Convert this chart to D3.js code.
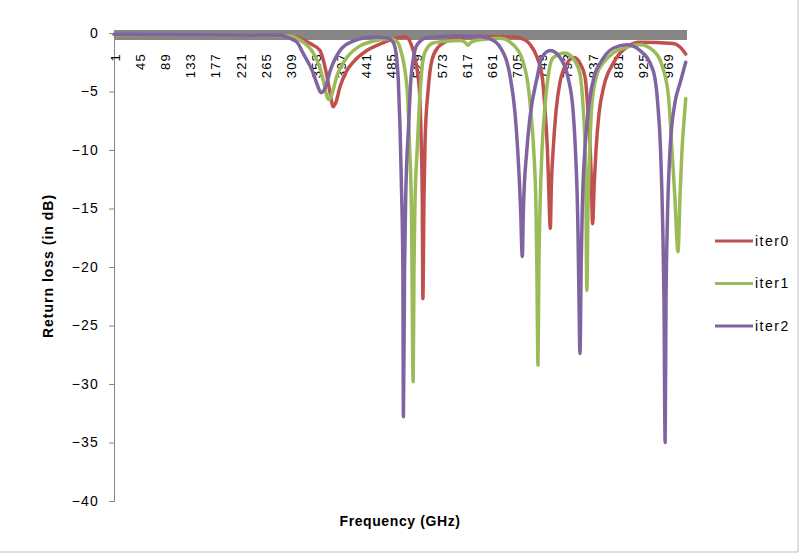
<!DOCTYPE html>
<html lang="en">
<head>
  <meta charset="UTF-8">
  <title>Return loss</title>
  <style>
    *{ margin:0; padding:0; }
    body{ background:#fff; }
    text{ font-family:"Liberation Sans", Arial, sans-serif; fill:#000; }
  </style>
  <script src="https://cdn.jsdelivr.net/npm/d3@7/dist/d3.min.js"></script>
</head>
<body>
  <svg id="mainsvg"></svg>
  <script>
    // frequency index (1..1001) and return loss in dB
    const nPoints = 1001
    const xTickLabels = [1,45,89,133,177,221,265,309,353,397,441,485,529,573,617,661,705,749,793,837,881,925,969]
    const yTicks = [0,-5,-10,-15,-20,-25,-30,-35,-40]
    const seriesNames = ['iter0','iter1','iter2']
    const seriesColors = ['#C0504D','#9BBB59','#8064A2']

    const iter0 = [[1,-0.15],[151,-0.15],[291,-0.2],[321,-0.35],[344,-0.9],[361,-1.5],[372,-3.4],[379,-5.2],[384,-6.3],
      [389,-5.9],[396,-4.6],[407,-3.3],[419,-2.5],[443,-1.5],[471,-0.85],[497,-0.4],[511,-0.35],[520,-0.9],[528,-2.3],
      [535,-5],[538,-9],[540,-14],[541,-22.7],[543,-14],[545,-9],[550,-5],[557,-2.3],[568,-1.2],[583,-0.7],[606,-0.4],
      [641,-0.3],[702,-0.35],[720,-0.6],[729,-1.0],[741,-2.1],[750,-3.8],[755,-6.7],[759,-10],[761,-12.8],[764,-16.7],
      [766,-12.8],[769,-10],[774,-6.7],[781,-4.2],[793,-2.6],[806,-2.1],[816,-2.6],[825,-3.8],[830,-6.7],[834,-10],
      [836,-12.8],[838,-16.3],[841,-12.8],[844,-10],[849,-7],[858,-4.5],[874,-2.6],[898,-1.2],[921,-0.8],[979,-0.9],
      [991,-1.2],[1001,-1.8]]

    const iter1 = [[1,-0.15],[151,-0.15],[308,-0.25],[326,-0.6],[349,-1.7],[361,-3.0],[368,-4.3],[373,-5.4],[377,-5.7],
      [382,-5.2],[391,-3.6],[408,-2.1],[431,-1.1],[454,-0.7],[483,-0.5],[497,-0.8],[504,-1.8],[510,-3.3],[515,-6],
      [518,-10],[521,-15],[522,-20],[524,-29.8],[525.5,-20],[527,-15],[531,-10],[535,-6],[539.5,-3],[545,-1.6],
      [559,-0.85],[583,-0.7],[606,-0.65],[615,-0.8],[620,-1.05],[625,-0.8],[638,-0.6],[676,-0.45],[699,-1.0],[716,-2.4],
      [725,-4.4],[731,-7.3],[735,-10],[739,-15],[740.5,-20],[742.5,-28.4],[744,-20],[746,-15],[749.5,-10],[753,-7.3],
      [760,-3.8],[769,-2.1],[790,-1.7],[807,-2.4],[816,-3.5],[821,-6],[825,-10],[826.5,-15],[828,-22],[830,-15],
      [833,-10],[837,-6],[846,-3.5],[856,-2.6],[874,-1.7],[898,-1.2],[921,-1.0],[944,-1.5],[961,-3.0],[971,-5.5],
      [977,-10],[982,-14],[987.5,-18.7],[991,-14],[994.5,-10],[998,-7.5],[1001,-5.6]]

    const iter2 = [[1,-0.1],[151,-0.15],[291,-0.2],[308,-0.45],[321,-0.8],[331,-1.7],[349,-3.4],[356,-4.4],[363,-5.1],
      [370,-4.7],[379,-3.2],[396,-1.5],[419,-0.7],[454,-0.35],[478,-0.4],[489,-0.8],[494,-1.7],[498,-4],[501,-8],
      [504,-14],[506,-20],[507,-32.8],[509,-20],[511,-14],[516,-8],[520,-4],[525,-2],[531,-1.0],[548,-0.4],[601,-0.25],
      [641,-0.3],[659,-0.5],[676,-1.2],[694,-3.8],[702,-6.7],[707,-10],[712,-15],[715,-19.1],[717,-15],[723,-10],
      [729,-7],[741,-3.8],[749,-2.1],[764,-1.5],[781,-2.1],[795,-3.8],[804,-6.7],[808,-10],[812.5,-17],[814,-22],
      [816,-27.4],[818,-20],[820,-15],[824.5,-10],[832,-6],[842,-3.5],[851,-2.6],[874,-1.3],[898,-1.0],[921,-1.5],
      [944,-3.2],[952,-6],[957,-10],[961,-17],[963,-23],[965,-35],[966.5,-23],[968.5,-17],[973.5,-10],[982,-6],
      [991,-4.3],[1001,-2.5]]

    const allSeries = [iter0, iter1, iter2]

    const width = 802, height = 556
    const margin = { left:114, top:33, right:116, bottom:55 }
    const svg = d3.select('#mainsvg').attr('width',width).attr('height',height)
      .style('display','block')

    const x = d3.scaleLinear().domain([0.5, nPoints + 0.5]).range([margin.left, width - margin.right])
    const y = d3.scaleLinear().domain([-40, 0]).range([height - margin.bottom, margin.top])

    // chart area border (right / bottom edges visible)
    svg.append('rect')
      .attr('x',-2).attr('y',-2).attr('width',width - 2).attr('height',height - 2)
      .attr('fill','none').attr('stroke','#bfbfbf').attr('stroke-width',1)

    // y axis
    const yAxis = svg.append('g')
      .attr('transform',`translate(${margin.left},0)`)
      .call(d3.axisLeft(y).tickValues(yTicks).tickSize(5).tickPadding(10).tickFormat(d3.format('d')))
    yAxis.select('.domain').attr('stroke','#868686')
    yAxis.selectAll('.tick line').attr('stroke','#868686')
    yAxis.selectAll('.tick text')
      .style('font-size','14px').style('letter-spacing','1.2px')
      .style('font-family','"Liberation Sans", Arial, sans-serif')

    // x axis at value 0, one tick per category -> dense gray band
    const xAxis = svg.append('g')
      .attr('transform',`translate(0,${y(0)})`)
    xAxis.selectAll('line.cat').data(d3.range(0, nPoints + 1)).join('line')
      .attr('class','cat')
      .attr('x1', d => x(d + 0.5)).attr('x2', d => x(d + 0.5))
      .attr('y1', -3).attr('y2', 7)
      .attr('stroke','#868686').attr('stroke-width',1)
      .attr('shape-rendering','crispEdges')
    xAxis.append('line')
      .attr('x1', x(0.5)).attr('x2', x(nPoints + 0.5))
      .attr('stroke','#868686')
    xAxis.selectAll('text').data(xTickLabels).join('text')
      .attr('transform', d => `translate(${x(d) + 1},20) rotate(-90)`)
      .attr('text-anchor','end')
      .attr('dy','0.35em')
      .style('font-size','13px').style('letter-spacing','1.2px')
      .text(d => d)

    // lines
    const line = d3.line()
      .x(d => x(d[0]))
      .y(d => y(d[1]))
      .curve(d3.curveMonotoneX)

    svg.append('g').selectAll('path').data(allSeries).join('path')
      .attr('d', line)
      .attr('fill','none')
      .attr('stroke', (d,i) => seriesColors[i])
      .attr('stroke-width',3.5)
      .attr('stroke-linejoin','round')
      .attr('stroke-linecap','round')

    // axis titles
    svg.append('text')
      .attr('transform','translate(53,266) rotate(-90)')
      .attr('text-anchor','middle')
      .style('font-size','14px').style('font-weight','bold').style('letter-spacing','1px')
      .text('Return loss (in dB)')

    svg.append('text')
      .attr('x',400).attr('y',526)
      .attr('text-anchor','middle')
      .style('font-size','14px').style('font-weight','bold').style('letter-spacing','0.6px')
      .text('Frequency (GHz)')

    // legend
    const legend = svg.append('g').selectAll('g').data(seriesNames).join('g')
      .attr('transform', (d,i) => `translate(715,${241 + i*42.5})`)
    legend.append('line')
      .attr('x1',0).attr('x2',38)
      .attr('stroke', (d,i) => seriesColors[i])
      .attr('stroke-width',3)
    legend.append('text')
      .attr('x',40).attr('dy','0.35em')
      .style('font-size','14px').style('letter-spacing','1.5px')
      .text(d => d)
  </script>
</body>
</html>
